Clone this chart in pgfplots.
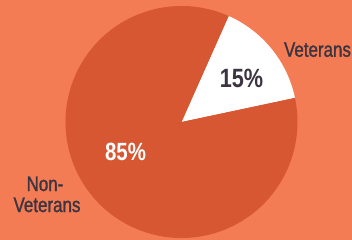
\documentclass[border=0pt]{standalone}
\usepackage{pgfplots}
\pgfplotsset{compat=1.18}
\usepackage{pgfplotstable}
\usepackage{fontspec}
\setmainfont{Liberation Sans}[FakeStretch=0.82]
\newfontfamily\labelfont{Liberation Sans}[FakeStretch=0.81, FakeBold=1.3]
\definecolor{bgor}{RGB}{244,124,84}
\definecolor{darkor}{RGB}{214,87,50}
\definecolor{txt}{RGB}{60,52,64}
\pgfplotstableread{
label value
Veterans 15
NonVeterans 85
}\piedata
\pgfplotstablegetelem{0}{value}\of\piedata
\pgfmathsetmacro{\vA}{\pgfplotsretval}
\pgfplotstablegetelem{1}{value}\of\piedata
\pgfmathsetmacro{\vB}{\pgfplotsretval}
\pgfmathsetmacro{\aStart}{12}
\pgfmathsetmacro{\aMid}{\aStart+3.6*\vA}
\pgfmathsetmacro{\aEnd}{\aMid+3.6*\vB}
\begin{document}
\begin{tikzpicture}
\begin{axis}[
  scale only axis, width=352bp, height=240bp,
  xmin=0, xmax=352, ymin=0, ymax=240,
  hide axis, clip=true,
]
\fill[bgor] (axis cs:0,0) rectangle (axis cs:352,240);
\fill[white] (axis cs:181.5,118) -- ++(\aStart:116bp) arc[start angle=\aStart, end angle=\aMid, radius=116bp] -- cycle;
\fill[darkor] (axis cs:181.5,118) -- ++(\aMid:116bp) arc[start angle=\aMid, end angle=\aEnd, radius=116bp] -- cycle;
\node[anchor=base, text=txt, font=\labelfont\fontsize{21}{21}\selectfont, inner sep=0pt] at (axis cs:317.5,183.3) {Veterans};
\node[anchor=base, text=txt, font=\bfseries\fontsize{26.5}{26.5}\selectfont, inner sep=0pt] at (axis cs:241.5,153) {15\%};
\node[anchor=base, text=white, font=\bfseries\fontsize{25}{25}\selectfont, inner sep=0pt] at (axis cs:125.5,80) {85\%};
\node[anchor=base, text=txt, font=\labelfont\fontsize{21}{21}\selectfont, inner sep=0pt] at (axis cs:45,49) {Non-};
\node[anchor=base, text=txt, font=\labelfont\fontsize{21}{21}\selectfont, inner sep=0pt] at (axis cs:47,28) {Veterans};
\end{axis}
\end{tikzpicture}
\end{document}
